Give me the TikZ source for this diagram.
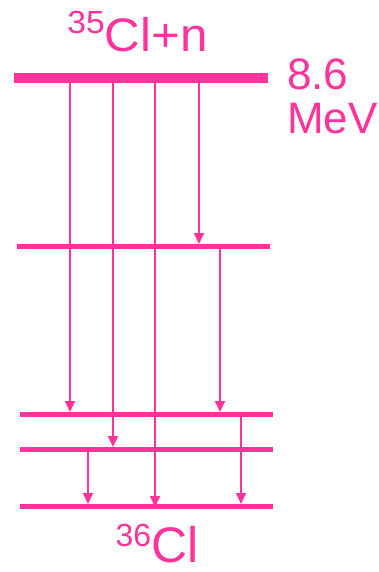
\documentclass[tikz,border=0pt]{standalone}
\usepackage{fontspec}
\setmainfont{Liberation Sans}
\usetikzlibrary{arrows.meta}
\definecolor{pk}{RGB}{255,51,153}
\tikzset{
  lvl/.style={draw=pk,line width=5pt},
  toplvl/.style={draw=pk,line width=10pt},
  arr/.style={draw=pk,line width=2pt,-{Triangle[width=10pt,length=11pt]}},
  lbl/.style={text=pk,inner sep=0pt}
}
\begin{document}
\begin{tikzpicture}[x=1pt,y=-1pt]
\useasboundingbox (0,0) rectangle (378,572);
% levels
\coordinate (L0a) at (14,78);  \coordinate (L0b) at (268,78);
\coordinate (L1a) at (17,246.5); \coordinate (L1b) at (270,246.5);
\coordinate (L2a) at (20,414.5); \coordinate (L2b) at (273,414.5);
\coordinate (L3a) at (20,449.5); \coordinate (L3b) at (273,449.5);
\coordinate (L4a) at (20,506.5); \coordinate (L4b) at (273,506.5);
\draw[toplvl] (L0a) -- (L0b);
\draw[lvl,line width=4.5pt] (L1a) -- (L1b);
\draw[lvl] (L2a) -- (L2b);
\draw[lvl] (L3a) -- (L3b);
\draw[lvl] (L4a) -- (L4b);
% arrow end points
\coordinate (a1s) at (70,83);  \coordinate (a1e) at (70,412);
\coordinate (a2s) at (113,83); \coordinate (a2e) at (113,447);
\coordinate (a3s) at (155,83); \coordinate (a3e) at (155,507);
\coordinate (a4s) at (199,83); \coordinate (a4e) at (199,244);
\coordinate (a5s) at (220,248); \coordinate (a5e) at (220,412);
\coordinate (a6s) at (241,416); \coordinate (a6e) at (241,504);
\coordinate (a7s) at (88,451); \coordinate (a7e) at (88,504);
\foreach \i in {1,...,7} { \draw[arr] (a\i s) -- (a\i e); }
% labels
\node[lbl,anchor=base,xscale=1.05] (top) at (137.5,52) {{\fontsize{32}{32}\selectfont\raisebox{18pt}{35}}\fontsize{47}{47}\selectfont Cl+n};
\node[lbl,anchor=base west] (mev) at (287,90) {\fontsize{44}{44}\selectfont 8.6};
\node[lbl,anchor=base west] (mev2) at (287,134) {\fontsize{44}{44}\selectfont MeV};
\node[lbl,anchor=base] (bot) at (157,562) {{\fontsize{32}{32}\selectfont\raisebox{16pt}{36}}\fontsize{50}{50}\selectfont Cl};
\end{tikzpicture}
\end{document}
